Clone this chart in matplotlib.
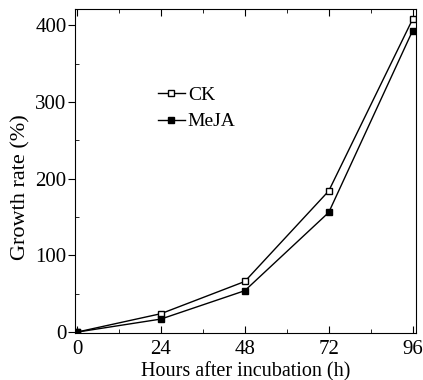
import matplotlib
matplotlib.use("Agg")
import matplotlib.pyplot as plt
from matplotlib.ticker import MultipleLocator

hours = [0, 24, 48, 72, 96]
ck = [0, 24, 66, 184, 408]
meja = [0, 17, 54, 156, 393]

plt.rcParams['font.family'] = ['Liberation Serif', 'DejaVu Serif']

fig = plt.figure(figsize=(4.23, 3.80), dpi=100)
ax = fig.add_axes([0.177, 0.124, 0.806, 0.852])

ax.plot(hours, ck, color='black', lw=1, marker='s', markersize=5,
        markerfacecolor='white', markeredgecolor='black', label='CK')
ax.plot(hours, meja, color='black', lw=1, marker='s', markersize=5,
        markerfacecolor='black', markeredgecolor='black', label='MeJA')

ax.set_xlim(-0.6, 96.9)
ax.set_ylim(-1, 421)
ax.set_xticks(hours)
ax.xaxis.set_minor_locator(MultipleLocator(12))
ax.yaxis.set_major_locator(MultipleLocator(100))
ax.yaxis.set_minor_locator(MultipleLocator(50))

ax.tick_params(axis='x', which='both', direction='in', top=True)
ax.tick_params(axis='x', which='major', length=5, pad=5)
ax.tick_params(axis='x', which='minor', length=3)
ax.tick_params(axis='y', which='major', direction='out', length=5, pad=1)
ax.tick_params(axis='y', which='minor', direction='in', length=3)
ax.tick_params(labelsize=15)

ax.set_xlabel('Hours after incubation (h)', fontsize=14.5, labelpad=2)
ax.set_ylabel('Growth rate (%)', fontsize=16)
ax.yaxis.set_label_coords(-0.13, 0.45)

ax.legend(loc='upper left', bbox_to_anchor=(0.22, 0.785), frameon=False,
          fontsize=14, handlelength=1.4, handletextpad=0.15, labelspacing=0.45,
          borderaxespad=0)

fig.savefig('out.png', dpi=100)
